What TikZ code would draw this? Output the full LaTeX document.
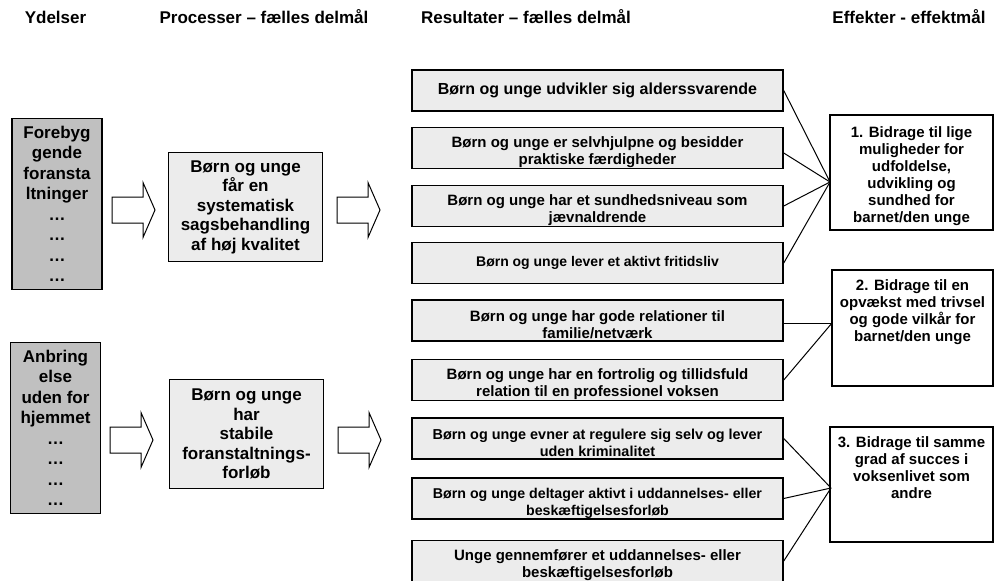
\documentclass[tikz,border=0pt]{standalone}
\usepackage{fontspec}
\setmainfont{Liberation Sans}
\usepackage{tikz}
\usetikzlibrary{positioning}

\definecolor{resgrey}{RGB}{236,236,236}
\definecolor{ydgrey}{RGB}{192,192,192}

\tikzset{
  header/.style={inner sep=0pt, font=\fontsize{17}{20}\selectfont\bfseries},
  ydbox/.style={draw, line width=1.5pt, fill=ydgrey, minimum width=90pt, minimum height=171pt, inner sep=0pt, align=center, font=\fontsize{17}{20.5}\selectfont\bfseries},
  procbox/.style={draw, line width=1.5pt, fill=resgrey, minimum width=154pt, minimum height=109pt, inner sep=0pt, align=center, font=\fontsize{17}{19.5}\selectfont\bfseries},
  resbox/.style={draw, line width=1.5pt, fill=resgrey, minimum width=371pt, minimum height=41pt, inner sep=0pt, align=center, font=\fontsize{15}{17.5}\selectfont\bfseries},
  twoline/.style={text height=37pt},
  effbox/.style={draw, line width=1.5pt, fill=white, minimum width=163pt, minimum height=115pt, inner sep=0pt},
  efftext/.style={inner sep=0pt, align=center, font=\fontsize{15}{17}\selectfont\bfseries},
  link/.style={line width=1pt},
  fatarrow/.pic={\draw [line width=1pt, fill=white] (0,-13) -- (31,-13) -- (31,-27.5) -- (43,0) -- (31,27.5) -- (31,13) -- (0,13) -- cycle ;}
}

\begin{document}
\begin{tikzpicture}[x=1pt,y=-1pt]
\useasboundingbox (0,0) rectangle (994,581);

% Text Node
\node (hyd) [header] at (55.5,17) {Ydelser};
% Text Node
\node (hproc) [header] at (264,17) {Processer – fælles delmål};
% Text Node
\node (hres) [header] at (526,17) {Resultater – fælles delmål};
% Text Node
\node (heff) [header] at (909,17) {Effekter - effektmål};

%Shape: Rectangle
\node (yd1) [ydbox] at (57,204) {Forebyg\\gende\\foransta\\ltninger\\…\\…\\…\\…};
%Shape: Rectangle
\node (yd2) [ydbox] at (55.5,428) {Anbring\\else\\uden for\\hjemmet\\…\\…\\…\\…};

%Shape: Right Arrow
\pic at (112,210) {fatarrow};
\pic at (110,440) {fatarrow};

%Shape: Rectangle
\node (proc1) [procbox] at (245.5,207) {Børn og unge\\får en\\systematisk\\sagsbehandling\\af høj kvalitet};
%Shape: Rectangle
\node (proc2) [procbox] at (246.5,434) {Børn og unge\\har\\stabile\\foranstaltnings-\\forløb};

%Shape: Right Arrow
\pic at (337,210) {fatarrow};
\pic at (338,440) {fatarrow};

%Shape: Rectangle
\node (res1) [resbox, font=\fontsize{16}{18}\selectfont\bfseries] at (597.5,90.5) {Børn og unge udvikler sig alderssvarende};
\node (res2) [resbox, twoline] at (597.5,148) {Børn og unge er selvhjulpne og besidder\\praktiske færdigheder};
\node (res3) [resbox, twoline] at (597.5,206) {Børn og unge har et sundhedsniveau som\\jævnaldrende};
\node (res4) [resbox, font=\fontsize{14}{17}\selectfont\bfseries] at (597.5,263) {Børn og unge lever et aktivt fritidsliv};
\node (res5) [resbox, twoline] at (597.5,320.5) {Børn og unge har gode relationer til\\familie/netværk};
\node (res6) [resbox, twoline] at (597.5,380) {Børn og unge har en fortrolig og tillidsfuld\\relation til en professionel voksen};
\node (res7) [resbox, twoline, font=\fontsize{14.4}{17}\selectfont\bfseries] at (597.5,438.5) {Børn og unge evner at regulere sig selv og lever\\uden kriminalitet};
\node (res8) [resbox, twoline, font=\fontsize{14.2}{17.5}\selectfont\bfseries] at (597.5,498.5) {Børn og unge deltager aktivt i uddannelses- eller\\beskæftigelsesforløb};
\node (res9) [resbox, twoline] at (597.5,561) {Unge gennemfører et uddannelses- eller\\beskæftigelsesforløb};

%Shape: Rectangle
\node (eff1) [effbox] at (911.5,172.5) {};
\node (eff2) [effbox, minimum width=161pt, minimum height=116pt] at (912.5,328) {};
\node (eff3) [effbox, minimum height=115pt] at (911.5,484.5) {};

% Text Node
\node (eff1txt) [efftext, below=12pt of eff1.north] {1. Bidrage til lige\\muligheder for\\udfoldelse,\\udvikling og\\sundhed for\\barnet/den unge};
% Text Node
\node (eff2txt) [efftext, below=10pt of eff2.north] {2. Bidrage til en\\opvækst med trivsel\\og gode vilkår for\\barnet/den unge};
% Text Node
\node (eff3txt) [efftext, below=10pt of eff3.north] {3. Bidrage til samme\\grad af succes i\\voksenlivet som\\andre};

\coordinate (eff1in) at (830,182);
\coordinate (eff2in) at (832,323);
\coordinate (eff3in) at (831,488);

%Straight Lines
\draw [link] (res1.east) -- (eff1in) ;
\draw [link] ([yshift=-5pt]res2.east) -- (eff1in) ;
\draw [link] (res3.east) -- (eff1in) ;
\draw [link] (res4.east) -- (eff1in) ;
%Straight Lines
\draw [link] ([yshift=-2.5pt]res5.east) -- (eff2in) ;
\draw [link] (res6.east) -- (eff2in) ;
%Straight Lines
\draw [link] (res7.east) -- (eff3in) ;
\draw [link] (res8.east) -- (eff3in) ;
\draw [link] (res9.east) -- (eff3in) ;

\end{tikzpicture}
\end{document}
